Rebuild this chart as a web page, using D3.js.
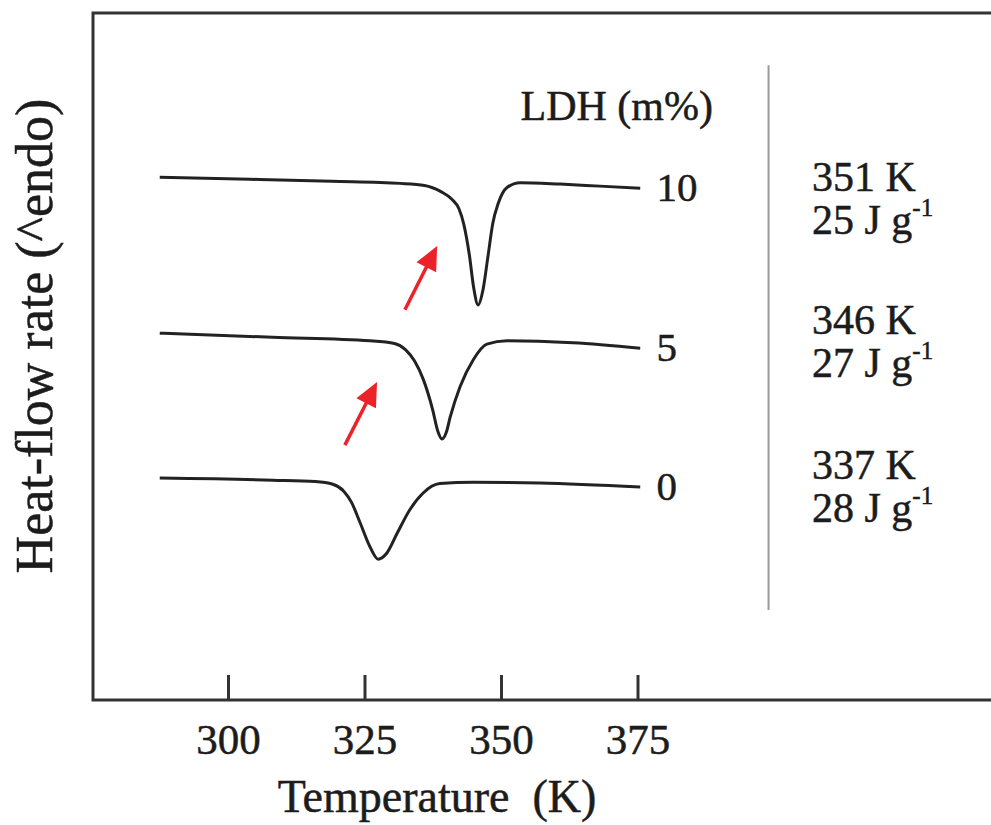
<!DOCTYPE html>
<html>
<head>
<meta charset="utf-8">
<script src="https://cdn.jsdelivr.net/npm/d3@7/dist/d3.min.js"></script>
<style>
  body { margin: 0; background: #fff; }
  text { font-family: "Liberation Serif", "Times New Roman", serif; fill: #1c1c1c; stroke: #1c1c1c; stroke-width: 0.5px; }
</style>
</head>
<body>
<div id="chart"></div>
<script>
// DSC heating curves (temperature in K, heat flow in arbitrary units)
var temps10 = [287.5, 304, 319, 331.5, 336, 339, 341, 342.3, 343.2, 344.2, 345.0, 345.8, 346.7, 347.6, 348.5, 349.5, 351.1, 353.5, 360.8, 368.1, 375.5];
var flow10  = [76.1, 75.8, 75.5, 75.2, 74.9, 74.0, 72.9, 71.5, 69.2, 64.8, 60.0, 57.5, 59.7, 64.5, 69.4, 72.3, 74.6, 75.3, 75.1, 74.8, 74.5];

var temps5 = [287.5, 308.2, 326, 330.5, 332.5, 334.2, 335.8, 337.5, 338.4, 339.2, 340.0, 340.7, 342.5, 344.9, 347.4, 351.1, 363.2, 375.5];
var flow5  = [53.4, 52.8, 52.3, 51.9, 51.0, 49.3, 46.6, 42.2, 39.2, 38.0, 39.0, 41.2, 45.6, 49.5, 51.8, 52.3, 52.0, 51.2];

var temps0 = [287.5, 308.2, 316, 319.2, 321.2, 322.6, 324.2, 326.0, 327.5, 329.1, 331.0, 333.3, 335.7, 338.8, 344.9, 357.1, 375.5];
var flow0  = [32.3, 32.0, 31.8, 31.4, 30.4, 28.8, 25.8, 22.3, 20.5, 21.4, 24.3, 27.7, 30.1, 31.5, 31.7, 31.6, 31.0];

var ldhLabels = ["10", "5", "0"];
var peakLabels = ["351 K", "346 K", "337 K"];
var enthalpyLabels = ["25 J g", "27 J g", "28 J g"];
var xTicks = [300, 325, 350, 375];

// red arrows: [tailT, tailFlow, tipT, tipFlow]
var arrows = [[332.4, 56.8, 338.3, 66.1], [321.4, 37.1, 327.3, 46.3]];

var width = 991, height = 825;
var frame = {left: 93, top: 13, bottom: 700};
var noteBaselines = [191, 334, 479];

var svg = d3.select("#chart").append("svg")
    .attr("width", width)
    .attr("height", height);

svg.append("rect").attr("width", width).attr("height", height).attr("fill", "#fff");

var x = d3.scaleLinear().domain([300, 375]).range([228, 637.5]);
var y = d3.scaleLinear().domain([0, 100]).range([frame.bottom, frame.top]);

// frame: left, top and bottom only (figure is cropped on the right)
svg.append("path")
    .attr("d", "M" + width + "," + frame.top + "H" + frame.left + "V" + frame.bottom + "H" + width)
    .attr("fill", "none")
    .attr("stroke", "#333")
    .attr("stroke-width", 3);

var xAxis = d3.axisBottom(x)
    .tickValues(xTicks)
    .tickSizeInner(-25)
    .tickSizeOuter(0);

var gx = svg.append("g")
    .attr("transform", "translate(0," + frame.bottom + ")")
    .call(xAxis);
gx.select(".domain").remove();
gx.selectAll(".tick line").attr("stroke", "#333").attr("stroke-width", 3);
gx.selectAll(".tick text")
    .attr("font-size", 43)
    .attr("dy", null)
    .attr("y", 54);

svg.append("text")
    .attr("x", 437)
    .attr("y", 812)
    .attr("text-anchor", "middle")
    .attr("font-size", 46)
    .style("white-space", "pre")
    .text("Temperature  (K)");

svg.append("text")
    .attr("transform", "translate(52,336) rotate(-90)")
    .attr("text-anchor", "middle")
    .attr("font-size", 52)
    .text("Heat-flow rate (^endo)");

// curves
var series = [
    {temps: temps10, flow: flow10},
    {temps: temps5, flow: flow5},
    {temps: temps0, flow: flow0}
];

var line = d3.line()
    .x(function(d) { return x(d[0]); })
    .y(function(d) { return y(d[1]); })
    .curve(d3.curveMonotoneX);

series.forEach(function(s, i) {
    var pts = d3.zip(s.temps, s.flow);
    svg.append("path")
        .datum(pts)
        .attr("d", line)
        .attr("fill", "none")
        .attr("stroke", "#222")
        .attr("stroke-width", 3);

    var last = pts[pts.length - 1];
    svg.append("text")
        .attr("x", x(375) + 19)
        .attr("y", y(last[1]) + 13)
        .attr("font-size", 41)
        .text(ldhLabels[i]);

    svg.append("text")
        .attr("x", 812)
        .attr("y", noteBaselines[i])
        .attr("font-size", 42)
        .text(peakLabels[i]);

    var t2 = svg.append("text")
        .attr("x", 812)
        .attr("y", noteBaselines[i] + 43)
        .attr("font-size", 42)
        .style("white-space", "pre")
        .text(enthalpyLabels[i]);
    t2.append("tspan")
        .attr("font-size", 25)
        .attr("dy", -18)
        .text("-1");
});

svg.append("text")
    .attr("x", 713)
    .attr("y", 120)
    .attr("text-anchor", "end")
    .attr("font-size", 42)
    .text("LDH (m%)");

// gray separator
svg.append("line")
    .attr("x1", x(399)).attr("x2", x(399))
    .attr("y1", y(92.4)).attr("y2", y(13.1))
    .attr("stroke", "#9a9a9a")
    .attr("stroke-width", 2);

// red arrows
var headLen = 24, headHalf = 11;
arrows.forEach(function(a) {
    var x0 = x(a[0]), y0 = y(a[1]), x1 = x(a[2]), y1 = y(a[3]);
    var dx = x1 - x0, dy = y1 - y0, len = Math.sqrt(dx * dx + dy * dy);
    var ux = dx / len, uy = dy / len;
    var bx = x1 - ux * headLen, by = y1 - uy * headLen;
    svg.append("line")
        .attr("x1", x0).attr("y1", y0)
        .attr("x2", bx + ux * 4).attr("y2", by + uy * 4)
        .attr("stroke", "#ec2229")
        .attr("stroke-width", 3.5);
    svg.append("path")
        .attr("d", "M" + x1 + "," + y1 +
            "L" + (bx - uy * headHalf) + "," + (by + ux * headHalf) +
            "L" + (bx + uy * headHalf) + "," + (by - ux * headHalf) + "Z")
        .attr("fill", "#ec2229");
});
</script>
</body>
</html>
